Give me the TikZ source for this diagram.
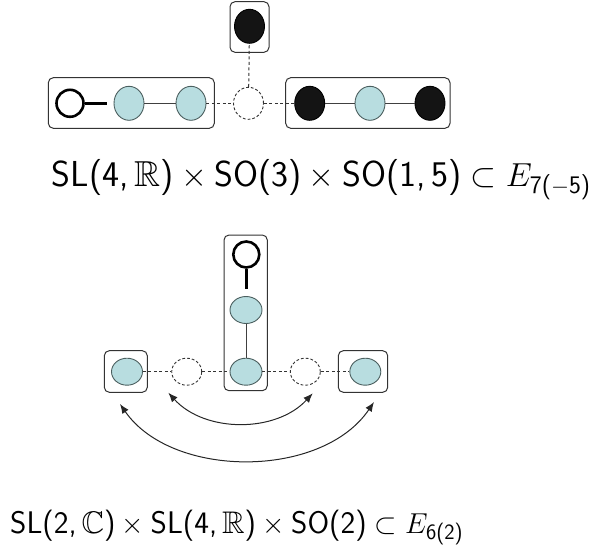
\documentclass[tikz,border=0pt]{standalone}
\usepackage{amsmath,amssymb}
\usetikzlibrary{shapes.geometric,arrows.meta}
\definecolor{lightcyan}{RGB}{184,221,224}
\definecolor{cyanedge}{RGB}{75,95,95}
\begin{document}
\begin{tikzpicture}[x=1pt,y=-1pt,
  dot/.style={ellipse, inner sep=0pt, minimum width=30pt, minimum height=34pt, line width=0.9pt},
  cyandot/.style={dot, fill=lightcyan, draw=cyanedge},
  blackdot/.style={dot, fill=black!92, draw=black},
  ghost/.style={dot, draw=black!80, dash pattern=on 2.8pt off 2pt},
  opendot/.style={circle, draw=black, line width=2.6pt, minimum size=27pt, inner sep=0pt},
  frame/.style={draw=black!80, rounded corners=5pt, line width=1pt},
  bond/.style={draw=black!75, line width=0.9pt},
  dbond/.style={draw=black!80, line width=1pt, dash pattern=on 3pt off 2.5pt},
  stem/.style={draw=black, line width=2.6pt},
  swap/.style={draw=black!85, line width=1pt, {Latex[length=9.5pt,width=7.5pt]}-{Latex[length=9.5pt,width=7.5pt]}},
  label/.style={inner sep=0pt, anchor=base west, font=\fontsize{27}{32}\selectfont}
]
\useasboundingbox (0,0) rectangle (594,552);

% ---------- top diagram ----------
\draw[frame] (230,1.7) rectangle (269,52.3);
\draw[frame] (48.3,77.7) rectangle (214.3,128.3);
\draw[frame] (285.7,77.7) rectangle (450,128.3);

\node[blackdot] (t0) at (249.5,26.3) {};
\node[opendot] (o1) at (70,103.3) {};
\coordinate (o1bar) at (106.7,103.3);
\node[cyandot] (c1) at (129,103.3) {};
\node[cyandot] (c2) at (191,103.3) {};
\node[ghost, minimum height=32pt] (g) at (248.5,103.3) {};
\node[blackdot] (b1) at (309.7,103.3) {};
\node[cyandot] (c3) at (370,103.3) {};
\node[blackdot] (b2) at (430,103.3) {};

\draw[stem] (o1.east) -- (o1bar);
\draw[bond] (c1) -- (c2);
\draw[dbond] (c2) -- (g);
\draw[dbond] (g) -- (b1);
\draw[dbond] (g) -- (t0);
\draw[bond] (b1) -- (c3);
\draw[bond] (c3) -- (b2);

\node[label] (lab1) at (51.7,186.5) {\resizebox{539pt}{!}{$\textsf{SL(4,}\,\mathbb{R}\textsf{)}\times\textsf{SO(3)}\times\textsf{SO(1,}\,\textsf{5)}\subset E_{\textsf{7(}-\textsf{5)}}$}};

% ---------- bottom diagram ----------
\draw[frame] (224,235) rectangle (267.3,390.7);
\draw[frame] (104.3,350.7) rectangle (147.3,392.3);
\draw[frame] (338.3,350.7) rectangle (387.7,392.3);

\node[opendot, minimum size=26pt] (o2) at (246.3,254.5) {};
\coordinate (o2stem) at (246.3,289.3);
\node[cyandot, minimum width=32pt, minimum height=27pt] (u1) at (246,310) {};
\node[cyandot, minimum width=32pt, minimum height=27pt] (u2) at (246,371.7) {};
\node[cyandot, minimum width=31pt, minimum height=27pt] (l1) at (127,371.7) {};
\node[ghost, minimum width=30pt, minimum height=27pt] (gl) at (186.7,371.7) {};
\node[ghost, minimum width=30pt, minimum height=27pt] (gr) at (305.3,371.7) {};
\node[cyandot, minimum width=31pt, minimum height=27pt] (r1) at (365.3,371.7) {};

\draw[stem] (o2.south) -- (o2stem);
\draw[bond] (u1) -- (u2);
\draw[dbond] (l1) -- (gl);
\draw[dbond] (gl) -- (u2);
\draw[dbond] (u2) -- (gr);
\draw[dbond] (gr) -- (r1);

\coordinate (ai1) at (168.3,392.7);
\coordinate (ai2) at (312.7,393.3);
\coordinate (ao1) at (120,404);
\coordinate (ao2) at (374,402);
\draw[swap] (ai1) .. controls (205,433) and (276,433) .. (ai2);
\draw[swap] (ao1) .. controls (172,479) and (322,479) .. (ao2);

\node[label] (lab2) at (10,533.3) {\resizebox{453pt}{!}{$\textsf{SL(2,}\,\mathbb{C}\textsf{)}\times\textsf{SL(4,}\,\mathbb{R}\textsf{)}\times\textsf{SO(2)}\subset E_{\textsf{6(2)}}$}};
\end{tikzpicture}
\end{document}
